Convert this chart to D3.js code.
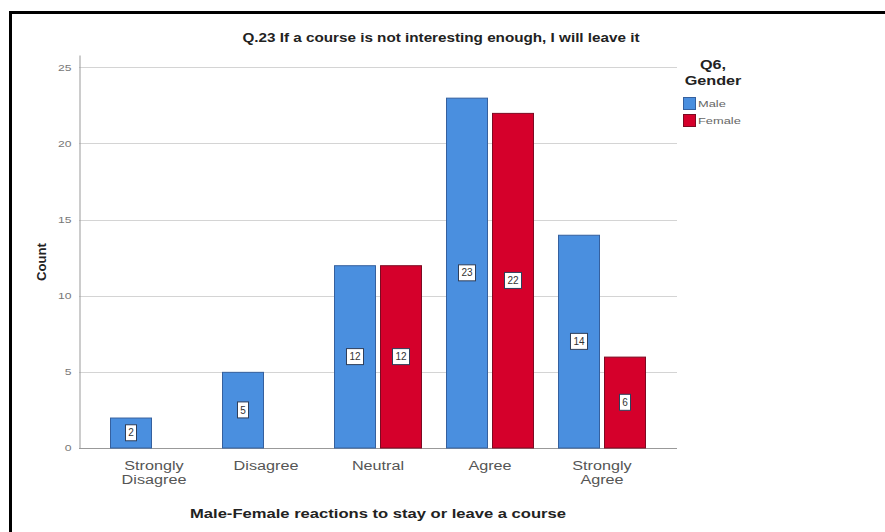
<!DOCTYPE html>
<html>
<head>
<meta charset="utf-8">
<script src="https://cdn.jsdelivr.net/npm/d3@7/dist/d3.min.js"></script>
<style>
  html, body { margin: 0; padding: 0; background: #fff; }
  svg { display: block; font-family: "Liberation Sans", Arial, sans-serif; }
</style>
</head>
<body>
<svg id="chart" width="885" height="532"></svg>
<script>
// Responses to Q.23, split by gender
const categories = [["Strongly", "Disagree"], ["Disagree"], ["Neutral"], ["Agree"], ["Strongly", "Agree"]];
const categoryKeys = ["Strongly Disagree", "Disagree", "Neutral", "Agree", "Strongly Agree"];
const genders = ["Male", "Female"];
const maleCounts = [2, 5, 12, 23, 14];
const femaleCounts = [0, 0, 12, 22, 6];
const yTicks = [0, 5, 10, 15, 20, 25];

const colors = { Male: "#4a8fdf", Female: "#d5002b" };
const strokes = { Male: "#35609e", Female: "#7d0a22" };

// The chart's typeface is set wide: stretch each text run horizontally.
const WIDE = 1.35;
function widen(sel) {
  sel.each(function() {
    const n = this;
    const w = n.getComputedTextLength();
    if (w > 0) {
      n.setAttribute("textLength", (w * WIDE).toFixed(1));
      n.setAttribute("lengthAdjust", "spacingAndGlyphs");
    }
  });
}

const svg = d3.select("#chart");

// Outer frame
svg.append("rect")
  .attr("x", 10.5).attr("y", 12.5)
  .attr("width", 900).attr("height", 560)
  .attr("fill", "none").attr("stroke", "#000").attr("stroke-width", 3);

const plot = { left: 79, right: 677, top: 55, bottom: 448 };

const y = d3.scaleLinear().domain([0, 25.8]).range([plot.bottom, plot.top]);
const x0 = d3.scaleBand().domain(categoryKeys).range([plot.left + 19, plot.right - 19]).paddingInner(0).paddingOuter(0);
const x1 = d3.scaleBand().domain(genders).range([12, x0.bandwidth() - 12]).paddingInner(0.087).paddingOuter(0);

// Gridlines
svg.append("g")
  .selectAll("line")
  .data(yTicks.filter(t => t > 0))
  .join("line")
  .attr("x1", plot.left).attr("x2", plot.right)
  .attr("y1", d => Math.round(y(d)) + 0.5).attr("y2", d => Math.round(y(d)) + 0.5)
  .attr("stroke", "#d4d4d4").attr("stroke-width", 1);

// Y axis
const yAxis = svg.append("g")
  .attr("transform", `translate(${plot.left + 0.5},0)`)
  .call(d3.axisLeft(y).tickValues(yTicks).tickSize(0).tickPadding(8));
yAxis.select(".domain").attr("stroke", "#999");
yAxis.selectAll("text").attr("fill", "#777").attr("font-size", 9);
widen(yAxis.selectAll("text"));

// X axis: ticks from the band scale, baseline across the whole plot
const xAxis = svg.append("g")
  .attr("transform", `translate(0,${plot.bottom + 0.5})`)
  .call(d3.axisBottom(x0).tickSize(0).tickFormat(""));
xAxis.select(".domain").remove();
xAxis.append("line")
  .attr("x1", plot.left).attr("x2", plot.right)
  .attr("stroke", "#999");
xAxis.selectAll(".tick").each(function(d, i) {
  const t = d3.select(this).append("text")
    .attr("fill", "#555").attr("font-size", 12).attr("text-anchor", "middle");
  categories[i].forEach((line, j) => {
    t.append("tspan").attr("x", 0).attr("y", 21 + j * 14).text(line);
  });
});
widen(xAxis.selectAll("tspan"));

// Bars
const rows = categoryKeys.map((c, i) => ({ cat: c, Male: maleCounts[i], Female: femaleCounts[i] }));
const groups = svg.append("g").selectAll("g")
  .data(rows).join("g")
  .attr("transform", d => `translate(${x0(d.cat)},0)`);

const barData = d => genders.map(g => ({ g, v: d[g] })).filter(b => b.v > 0);

groups.selectAll("rect.bar")
  .data(barData).join("rect")
  .attr("class", "bar")
  .attr("x", b => x1(b.g) + 0.5)
  .attr("y", b => y(b.v) + 0.5)
  .attr("width", x1.bandwidth() - 1)
  .attr("height", b => y(0) - y(b.v) - 0.5)
  .attr("fill", b => colors[b.g])
  .attr("stroke", b => strokes[b.g]).attr("stroke-width", 1);

// Value labels in small boxes at mid-height
const lab = groups.selectAll("g.lab")
  .data(barData).join("g")
  .attr("class", "lab")
  .attr("transform", b => `translate(${x1(b.g) + x1.bandwidth() / 2},${y(b.v / 2)})`);
lab.append("rect")
  .attr("x", b => String(b.v).length > 1 ? -8.5 : -5.5).attr("y", -8)
  .attr("width", b => String(b.v).length > 1 ? 17 : 11).attr("height", 16)
  .attr("fill", "#fff").attr("stroke", "#2f3f5a").attr("stroke-width", 1);
lab.append("text")
  .attr("text-anchor", "middle").attr("dy", "0.36em")
  .attr("font-size", 10).attr("fill", "#333")
  .text(b => b.v);

// Title
const title = svg.append("text")
  .attr("x", 441).attr("y", 42)
  .attr("text-anchor", "middle").attr("font-size", 12).attr("font-weight", "bold").attr("fill", "#222")
  .text("Q.23 If a course is not interesting enough, I will leave it");
title.attr("textLength", 397).attr("lengthAdjust", "spacingAndGlyphs");

// Axis titles
svg.append("text")
  .attr("transform", "translate(46,262) rotate(-90)")
  .attr("text-anchor", "middle").attr("font-size", 13).attr("font-weight", "bold").attr("fill", "#222")
  .attr("textLength", 38).attr("lengthAdjust", "spacingAndGlyphs")
  .text("Count");

svg.append("text")
  .attr("x", (plot.left + plot.right) / 2).attr("y", 518)
  .attr("text-anchor", "middle").attr("font-size", 12).attr("font-weight", "bold").attr("fill", "#222")
  .attr("textLength", 376).attr("lengthAdjust", "spacingAndGlyphs")
  .text("Male-Female reactions to stay or leave a course");

// Legend
const legend = svg.append("g");
legend.append("text")
  .attr("text-anchor", "middle").attr("font-size", 12).attr("font-weight", "bold").attr("fill", "#222")
  .selectAll("tspan").data(["Q6,", "Gender"]).join("tspan")
  .attr("x", 713).attr("y", (d, i) => 69 + i * 16).text(d => d);
widen(legend.selectAll("tspan"));

const items = legend.selectAll("g.item").data(genders).join("g")
  .attr("class", "item")
  .attr("transform", (d, i) => `translate(683,${97 + i * 17})`);
items.append("rect")
  .attr("x", 0.5).attr("y", 0.5).attr("width", 12).attr("height", 12)
  .attr("fill", d => colors[d]).attr("stroke", d => strokes[d]);
items.append("text")
  .attr("x", 15).attr("y", 10)
  .attr("font-size", 9.5).attr("fill", "#666")
  .text(d => d);
widen(items.selectAll("text"));
</script>
</body>
</html>
